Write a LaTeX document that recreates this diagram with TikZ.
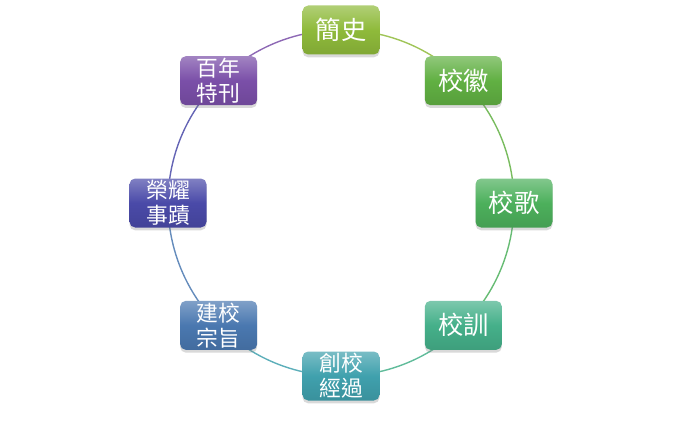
\documentclass[tikz,border=0pt]{standalone}
\usepackage{fontspec}
\newfontfamily\cjk{Noto Sans CJK TC}
\usepackage{xcolor}
\usetikzlibrary{shadows,backgrounds}
\definecolor{dlime}{rgb}{0.56 0.73 0.23}
\definecolor{dleaf}{rgb}{0.38 0.69 0.26}
\definecolor{dgrass}{rgb}{0.30 0.69 0.36}
\definecolor{dsea}{rgb}{0.27 0.69 0.54}
\definecolor{dteal}{rgb}{0.25 0.63 0.68}
\definecolor{dsteel}{rgb}{0.29 0.47 0.69}
\definecolor{dindigo}{rgb}{0.29 0.29 0.66}
\definecolor{dviolet}{rgb}{0.48 0.31 0.66}

\begin{document}
\begin{tikzpicture}[
  nodebox/.style={rounded corners=4pt, minimum width=1.925cm, minimum height=1.225cm,
    inner sep=0pt, text=white, align=center,
    top color=#1!70!white, bottom color=#1!90!black, middle color=#1,
    drop shadow={opacity=0.3,shadow xshift=0pt,shadow yshift=-2pt}},
  oneline/.style={font=\cjk\fontsize{18}{20}\selectfont},
  twoline/.style={font=\cjk\fontsize{15.5}{18}\selectfont}]

\useasboundingbox (0,0) rectangle (17,10.7);

\def\labels{%
簡史/dlime/oneline,%
校徽/dleaf/oneline,%
校歌/dgrass/oneline,%
校訓/dsea/oneline,%
創校\\經過/dteal/twoline,%
建校\\宗旨/dsteel/twoline,%
榮耀\\事蹟/dindigo/twoline,%
百年\\特刊/dviolet/twoline%
}
\def\rad{4.325}
\def\nboxes{8}

\begin{scope}[shift={(8.525,5.625)}]
% the boxes round the ring
\foreach \t/\c/\s [count=\i] in \labels
{
\pgfmathsetmacro\cAngle{90-(\i-1)*(360/\nboxes)}
\node[nodebox=\c, \s] (n\i) at (\cAngle:\rad) {\t};
}
\end{scope}

% the ring between the boxes
\begin{scope}[on background layer]
\foreach \c [count=\i] in {dlime,dleaf,dgrass,dsea,dteal,dsteel,dindigo,dviolet}
{
\pgfmathtruncatemacro\j{mod(\i,\nboxes)+1}
\draw[\c!85!white, line width=1pt] (n\i.center) to[bend left=22.5, looseness=0.89] (n\j.center);
}
\end{scope}
\end{tikzpicture}
\end{document}
